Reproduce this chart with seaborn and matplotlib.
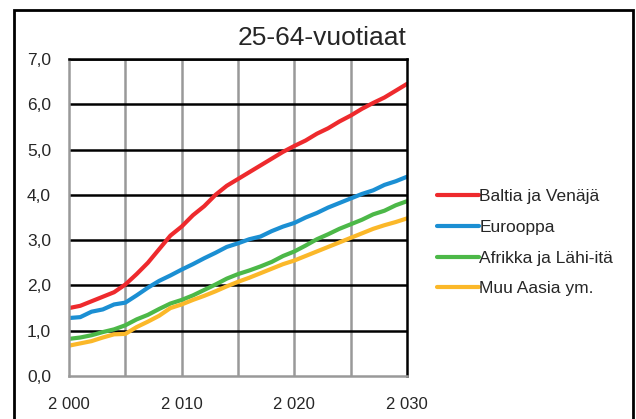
import numpy as np
import pandas as pd
import seaborn as sns
import matplotlib.pyplot as plt
from matplotlib.patches import Rectangle

# data
years = list(range(2000, 2031))
baltia = [1.50, 1.55, 1.65, 1.75, 1.85, 2.02, 2.25, 2.50, 2.80, 3.10, 3.30,
          3.55, 3.75, 4.00, 4.20, 4.35, 4.50, 4.65, 4.80, 4.95, 5.08,
          5.20, 5.35, 5.47, 5.62, 5.75, 5.90, 6.03, 6.15, 6.30, 6.45]
eurooppa = [1.28, 1.30, 1.42, 1.47, 1.58, 1.62, 1.78, 1.95, 2.10, 2.22, 2.35,
            2.47, 2.60, 2.72, 2.85, 2.93, 3.02, 3.08, 3.20, 3.30, 3.38,
            3.50, 3.60, 3.72, 3.82, 3.92, 4.02, 4.10, 4.22, 4.30, 4.40]
afrikka = [0.82, 0.85, 0.90, 0.97, 1.03, 1.12, 1.25, 1.35, 1.48, 1.60, 1.68,
           1.78, 1.90, 2.02, 2.15, 2.25, 2.33, 2.42, 2.52, 2.65, 2.75,
           2.88, 3.02, 3.13, 3.25, 3.35, 3.45, 3.57, 3.65, 3.77, 3.86]
aasia = [0.67, 0.72, 0.77, 0.85, 0.92, 0.93, 1.08, 1.20, 1.33, 1.50, 1.58,
         1.68, 1.77, 1.87, 1.98, 2.08, 2.17, 2.27, 2.37, 2.47, 2.55,
         2.65, 2.75, 2.85, 2.95, 3.05, 3.15, 3.25, 3.33, 3.40, 3.48]
series_names = ["Baltia ja Venäjä", "Eurooppa", "Afrikka ja Lähi-itä", "Muu Aasia ym."]
colors = ["#EE2A2D", "#1B8FD3", "#4CB848", "#FBB829"]
xtick_pos = [2000, 2005, 2010, 2015, 2020, 2025, 2030]
xtick_labels = ["2 000", "", "2 010", "", "2 020", "", "2 030"]
ytick_pos = [0, 1, 2, 3, 4, 5, 6, 7]
ytick_labels = ["0,0", "1,0", "2,0", "3,0", "4,0", "5,0", "6,0", "7,0"]

df = pd.DataFrame({"Vuosi": years * 4,
                   "Arvo": baltia + eurooppa + afrikka + aasia,
                   "Alue": sum([[n] * len(years) for n in series_names], [])})

sns.set_style("white")
plt.rcParams['font.family'] = ['Liberation Sans', 'DejaVu Sans']

fig = plt.figure(figsize=(6.36, 4.19), dpi=100)
ax = fig.add_axes([69/636, 43/419, 338/636, 317/419])

sns.lineplot(data=df, x="Vuosi", y="Arvo", hue="Alue", hue_order=series_names,
             palette=colors, linewidth=3, ax=ax, legend=False)

ax.set_xlim(2000, 2030)
ax.set_ylim(0, 7)
ax.set_xticks(xtick_pos)
ax.set_xticklabels(xtick_labels, fontsize=12)
ax.set_yticks(ytick_pos)
ax.set_yticklabels(ytick_labels, fontsize=12.5)
ax.set_xlabel("")
ax.set_ylabel("")

# grid: gray verticals, black horizontals
for x in xtick_pos[1:-1]:
    ax.axvline(x, color="#999999", lw=1.8, zorder=0.5)
for y in ytick_pos[1:]:
    ax.axhline(y, color="black", lw=1.8, zorder=0.5)

ax.spines["left"].set_color("#999999")
ax.spines["bottom"].set_color("#999999")
ax.spines["right"].set_color("black")
ax.spines["top"].set_color("black")
for s in ax.spines.values():
    s.set_linewidth(1.8)
ax.tick_params(axis="both", direction="out", length=4, width=1.8, color="#999999")
ax.tick_params(axis="x", pad=11)
ax.tick_params(axis="y", pad=9)

fig.text(322/636, 1 - 38/419, "25-64-vuotiaat", fontsize=19, ha="center", va="center")

handles = [plt.Line2D([], [], color=c, lw=3) for c in colors]
fig.legend(handles, series_names, loc="upper left", bbox_to_anchor=(430/636, 1 - 182/419),
           frameon=False, fontsize=12.5, handlelength=2.4, handletextpad=0.05,
           labelspacing=0.9, borderaxespad=0)

fig.patches.append(Rectangle((14/636, -0.05), 619/636, 1.05 - 10/419, transform=fig.transFigure,
                             fill=False, edgecolor="black", lw=2))

fig.savefig("out.png", dpi=100)
